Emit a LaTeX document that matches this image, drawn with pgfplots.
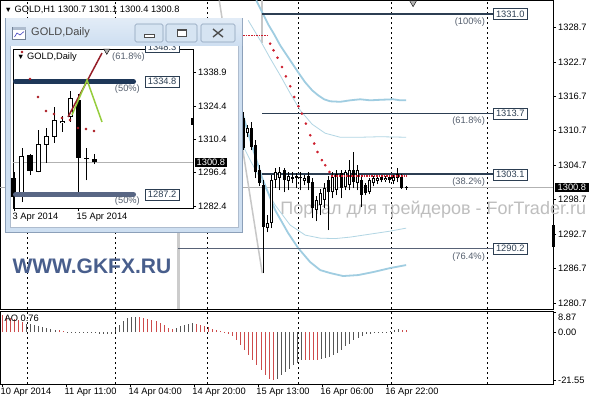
\documentclass[border=0pt]{standalone}
\usepackage{fontspec}
\setmainfont{Liberation Sans}
\usepackage{pgfplots}
\pgfplotsset{compat=1.18}
\usepackage{pgfplotstable}
\newcommand{\tfont}{\fontsize{9.3pt}{11pt}\selectfont}
\definecolor{fibline}{RGB}{44,62,82}
\definecolor{fibline2}{RGB}{88,98,118}
\definecolor{pcttext}{RGB}{85,95,110}
\definecolor{bandthick}{RGB}{160,205,225}
\definecolor{bandthin}{RGB}{178,214,228}
\definecolor{sarred}{RGB}{205,30,45}
\definecolor{aored}{RGB}{205,75,75}
\definecolor{aogray}{RGB}{85,85,85}
\definecolor{wmgray}{RGB}{190,190,190}
\definecolor{gkfx}{RGB}{72,94,140}
\definecolor{winborder}{RGB}{206,223,241}
\definecolor{winedge}{RGB}{140,160,185}
\definecolor{btnfill}{RGB}{214,228,242}
\definecolor{navybar}{RGB}{30,55,88}
\definecolor{slatebar}{RGB}{88,102,132}
\definecolor{insetred}{RGB}{150,30,40}
\definecolor{insetgreen}{RGB}{150,205,60}

\pgfplotstableread{
x o h l c
243 1312.87 1313.92 1307.31 1307.66
247 1310.27 1311.66 1309.57 1311.13
251 1311.13 1312.18 1307.31 1307.83
255 1308.18 1309.05 1302.44 1303.48
259 1303.83 1304.70 1301.05 1301.57
263 1301.22 1302.09 1285.92 1293.92
267 1293.74 1296.00 1293.05 1294.61
271 1294.61 1302.96 1293.74 1302.09
275 1302.09 1304.18 1300.70 1303.48
279 1302.44 1304.35 1300.35 1303.48
284 1303.83 1304.18 1300.00 1302.09
288 1301.92 1303.48 1300.35 1302.79
292 1302.27 1303.48 1301.57 1302.61
296 1302.79 1303.31 1300.70 1302.44
300 1302.44 1303.48 1300.35 1302.61
304 1301.92 1302.96 1301.22 1302.44
308 1302.79 1303.48 1300.35 1301.57
312 1301.74 1302.44 1295.48 1297.22
316 1296.87 1299.31 1294.96 1298.61
320 1297.74 1300.53 1296.00 1299.83
324 1298.61 1301.57 1297.22 1300.70
328 1302.09 1302.79 1293.40 1300.00
332 1300.00 1303.48 1298.96 1302.61
336 1300.35 1303.83 1299.48 1303.13
341 1303.31 1303.83 1298.96 1300.70
345 1300.87 1303.83 1300.35 1303.48
349 1301.22 1305.57 1300.35 1303.83
353 1303.83 1306.96 1300.70 1301.74
357 1301.57 1304.70 1300.35 1303.83
361 1302.09 1302.79 1297.40 1299.48
365 1301.22 1301.57 1299.48 1299.83
369 1300.00 1302.44 1299.66 1302.09
373 1301.57 1302.79 1301.05 1302.44
377 1301.92 1302.96 1301.40 1302.44
381 1302.61 1302.96 1301.74 1302.09
385 1302.09 1302.79 1301.74 1302.44
389 1302.61 1302.96 1301.57 1302.09
393 1301.92 1302.96 1301.40 1302.61
397 1302.44 1304.18 1301.74 1303.13
401 1302.61 1303.13 1300.53 1300.70
406 1300.70 1301.10 1300.40 1300.80
}\maincandles

\pgfplotstableread{
x o h l c
0 1294.18 1296.71 1281.60 1286.16
1 1286.16 1306.84 1284.05 1303.46
2 1303.88 1304.30 1295.44 1297.13
3 1296.71 1314.43 1296.50 1308.52
4 1308.10 1315.27 1300.51 1311.90
5 1311.48 1324.13 1308.95 1318.65
6 1317.38 1320.34 1313.59 1318.23
7 1319.92 1330.88 1317.81 1327.93
8 1327.09 1329.50 1286.16 1302.62
9 1302.62 1306.84 1293.33 1302.40
10 1302.20 1304.30 1300.08 1300.80
}\dailycandles

\tikzset{
  pbox/.style={draw=fibline, line width=0.7pt, fill=white, text=fibline, font=\tfont, inner xsep=2.6pt, inner ysep=1.8pt, minimum height=11pt, anchor=west},
  pct/.style={anchor=east, inner sep=0pt, text=pcttext, font=\tfont},
}
\pgfplotsset{
  nomark/.style={only marks, mark=*, mark size=0pt, mark options={draw=none, fill=none}, forget plot},
}

\begin{document}
\begin{tikzpicture}
\useasboundingbox (0,0) rectangle (596pt,400pt);
\fill[white] (0,0) rectangle (596pt,400pt);

% ---------------- main H1 panel ----------------
\begin{axis}[
  at={(0.4pt,399.6pt)}, anchor=north west, scale only axis,
  width=552.6pt, height=308.6pt,
  xmin=0, xmax=553, ymin=1279.66, ymax=1333.4,
  clip=false,
  axis line style={black, line width=0.8pt},
  xtick=\empty,
  ytick={1280.7,1286.7,1292.7,1298.7,1304.7,1310.7,1316.7,1322.7,1328.7},
  yticklabels={1280.7,1286.7,1292.7,1298.7,1304.7,1310.7,1316.7,1322.7,1328.7},
  ytick pos=right, yticklabel pos=right,
  tick align=outside, major tick length=3pt,
  tick style={black, line width=0.6pt},
  yticklabel style={anchor=west, inner sep=0pt, xshift=2pt, font=\tfont},
]
\pgfplotsinvokeforeach{27,115,207,298,391,487}{
  \addplot[black, line width=0.6pt, dash pattern=on 2.5pt off 2.5pt, forget plot] coordinates {(#1,1279.66) (#1,1333.4)};
}
% current price line
\addplot[black!30, line width=0.6pt] coordinates {(0,1300.8) (553,1300.8)};
% watermark
\node[anchor=west, inner sep=0pt, text=wmgray, font=\fontsize{18pt}{20pt}\selectfont] at (axis cs:280,1296.87) {Портал для трейдеров - ForTrader.ru};
% gray helper lines
\addplot[black!22, line width=1.5pt] coordinates {(219,1333.4) (262,1285.92)};
\addplot[black!22, line width=2pt] coordinates {(262,1333.4) (262,1326)};
\addplot[black!20, line width=2.5pt] coordinates {(178,1316) (178,1279.66)};
% bands
\addplot[bandthick, line width=1.8pt] coordinates {(256,1333.40) (262,1331.31) (268,1329.22) (274,1327.48) (280,1325.57) (290,1322.96) (298,1320.87) (305,1319.13) (312,1317.74) (318,1316.87) (324,1316.18) (330,1315.83) (340,1315.74) (350,1316.00) (360,1316.18) (370,1316.00) (380,1316.09) (393,1316.18) (400,1316.00) (406,1316.00)};
\addplot[bandthin, line width=0.8pt] coordinates {(248,1329.92) (260,1326.44) (270,1323.31) (280,1320.35) (290,1317.22) (300,1314.27) (312,1311.83) (325,1310.27) (340,1309.57) (360,1309.57) (380,1309.66) (406,1309.57)};
\addplot[bandthin, line width=0.8pt] coordinates {(240,1309.05) (250,1305.57) (262,1301.74) (275,1297.74) (290,1294.27) (305,1292.53) (320,1292.00) (335,1291.92) (350,1292.18) (370,1292.70) (390,1293.22) (406,1293.74)};
\addplot[bandthick, line width=1.8pt] coordinates {(240,1315.13) (250,1309.05) (262,1302.44) (275,1296.87) (288,1292.87) (298,1290.27) (310,1287.83) (320,1286.44) (330,1285.92) (343,1285.40) (358,1285.57) (373,1286.09) (390,1286.79) (406,1287.31)};
% fibonacci levels
\addplot[fibline, line width=1.8pt] coordinates {(262,1331.0) (493,1331.0)};
\addplot[fibline, line width=1.8pt] coordinates {(262,1313.7) (493,1313.7)};
\addplot[fibline, line width=1.8pt] coordinates {(262,1303.1) (493,1303.1)};
\addplot[fibline2, line width=1.8pt] coordinates {(178,1290.2) (493,1290.2)};
% candles: wicks, bodies, white interiors
\addplot[nomark, error bars/.cd, y dir=plus, y explicit, error mark=none, error bar style={black, line width=0.8pt}]
  table[x=x, y=l, y error expr=\thisrow{h}-\thisrow{l}] {\maincandles};
\addplot[nomark, error bars/.cd, y dir=plus, y explicit, error mark=none, error bar style={black, line width=3pt}]
  table[x=x, y expr={min(\thisrow{o},\thisrow{c})}, y error expr={max(abs(\thisrow{c}-\thisrow{o}),0.17)}] {\maincandles};
\addplot[nomark, error bars/.cd, y dir=plus, y explicit, error mark=none, error bar style={white, line width=1.1pt}]
  table[x=x, y expr={\thisrow{o}+0.17}, y error expr={max(\thisrow{c}-\thisrow{o}-0.34,0)}] {\maincandles};
% parabolic SAR
\addplot[sarred, line width=1.6pt, dash pattern=on 1.5pt off 1.1pt] coordinates {(243,1327.31) (267,1327.31)};
\addplot[only marks, mark=*, mark size=1.1pt, sarred, mark options={draw=none}] coordinates {(270,1325.87) (273.3,1324.70) (277.3,1323.43) (281.7,1321.80) (285.7,1320.18) (290,1318.44) (294,1316.58) (298.3,1314.96) (301.7,1313.69) (305.7,1311.95) (310,1309.92) (314,1308.47) (317.3,1307.01) (321.7,1305.57) (325,1304.70) (329.3,1303.53)};
\addplot[sarred, line width=1.4pt, dash pattern=on 1.4pt off 1.1pt] coordinates {(331,1302.85) (407,1302.85)};
% fib labels
\node[pct, yshift=-7.5pt] at (axis cs:485,1331.0) {(100\%)};
\node[pct, yshift=-7.5pt] at (axis cs:485,1313.7) {(61.8\%)};
\node[pct, yshift=-7.5pt] at (axis cs:485,1303.1) {(38.2\%)};
\node[pct, yshift=-8.5pt] at (axis cs:485,1290.2) {(76.4\%)};
\node[pbox] at (axis cs:493,1331.0) {1331.0};
\node[pbox] at (axis cs:493,1313.7) {1313.7};
\node[pbox] at (axis cs:493,1303.1) {1303.1};
\node[pbox] at (axis cs:493,1290.2) {1290.2};
% markers on the price scale
\addplot[black, line width=3pt] coordinates {(553.5,1294.27) (553.5,1290.44)};
\addplot[only marks, mark=triangle*, mark size=4pt, mark options={rotate=180, fill=black!30, draw=none}] coordinates {(413,1333.0)};
\node[anchor=west, fill=black, text=white, font=\tfont, inner xsep=2.5pt, inner ysep=1.5pt] at (axis cs:555,1300.8) {1300.8};
% texts
\node[anchor=west, inner sep=0pt, font=\tfont] at (axis cs:4,1331.83) {\scalebox{0.8}{▼} GOLD,H1 1300.7 1301.1 1300.4 1300.8};
\node[anchor=west, inner sep=0pt, text=gkfx, font=\bfseries\fontsize{21pt}{24pt}\selectfont] at (axis cs:12,1287.13) {WWW.GKFX.RU};
\end{axis}

% ---------------- AO panel ----------------
\begin{axis}[
  at={(0.4pt,89pt)}, anchor=north west, scale only axis,
  width=552.6pt, height=73pt,
  xmin=0, xmax=553, ymin=-23.11, ymax=9.33, clip=false,
  axis line style={black, line width=0.8pt},
  xtick={2,66,130,194,258,322,387},
  xticklabels={10 Apr 2014,11 Apr 11:00,14 Apr 04:00,14 Apr 20:00,15 Apr 13:00,16 Apr 06:00,16 Apr 22:00},
  xtick pos=bottom,
  xticklabel style={anchor=north west, inner sep=0pt, xshift=-2pt, yshift=-1pt, font=\tfont},
  ytick={-21.55,0,8.87}, yticklabels={-21.55,0.00,{}},
  ytick pos=right, yticklabel pos=right,
  yticklabel style={anchor=west, inner sep=0pt, xshift=2pt, font=\tfont},
  tick align=outside, major tick length=3pt,
  tick style={black, line width=0.6pt},
]
\pgfplotsinvokeforeach{27,115,207,298,391,487}{
  \addplot[black, line width=0.6pt, dash pattern=on 2.5pt off 2.5pt, forget plot] coordinates {(#1,-23.11) (#1,9.33)};
}
\addplot[ycomb, aored, line width=0.9pt] coordinates {(2,7.4)(6,7.0)(10,6.4)(14,5.9)(18,5.2)(22,4.4)(59,0.7)(63,0.3)(139,6.7)(143,6.4)(147,5.9)(151,5.5)(156,4.9)(160,4.0)(164,3.0)(168,1.9)(172,1.2)(196,3.5)(200,3.1)(204,2.8)(208,2.2)(212,1.5)(216,0.9)(220,0.3)(224,-0.4)(228,-1.0)(232,-1.9)(236,-3.7)(240,-5.6)(244,-7.9)(248,-10.4)(252,-12.6)(256,-14.8)(261,-17.0)(265,-19.3)(269,-20.7)(273,-21.55)(305,-12.3)(309,-12.3)(313,-12.4)(317,-12.4)(402,1.0)(406,0.76)};
\addplot[ycomb, aogray, line width=0.9pt] coordinates {(26,3.7)(30,3.4)(34,3.0)(38,2.7)(42,2.2)(46,1.9)(50,1.5)(55,1.1)(67,-0.15)(71,-0.2)(75,-0.25)(79,-0.3)(83,-0.3)(87,-0.4)(91,-0.5)(95,-0.6)(99,-0.8)(103,-1.0)(107,-1.1)(111,-0.9)(115,1.5)(119,3.0)(123,4.9)(127,6.4)(131,6.7)(135,6.8)(176,1.9)(180,2.5)(184,3.3)(188,3.7)(192,3.8)(277,-20.7)(281,-19.3)(285,-17.8)(289,-16.3)(293,-14.8)(297,-13.8)(301,-12.6)(321,-11.9)(325,-11.6)(329,-11.1)(333,-10.4)(337,-9.3)(341,-7.9)(345,-6.4)(349,-5.2)(353,-3.7)(358,-2.5)(362,-1.6)(366,-1.0)(370,-0.7)(374,-0.4)(378,-0.3)(382,-0.15)(386,0.1)(390,0.4)(394,1.0)(398,1.2)};
\node[anchor=west, inner sep=0pt, font=\tfont] at (axis cs:4,6.2) {AO 0.76};
\node[anchor=west, inner sep=0pt, font=\tfont, xshift=5pt, yshift=-5pt] at (axis cs:553,8.87) {8.87};
\end{axis}

% ---------------- inset window ----------------
\begin{scope}[x=1pt, y=-1pt, yshift=400pt]
  \fill[winedge] (5,18) rectangle (243,233);
  \fill[winborder] (6,19) rectangle (242,232);
  \fill[white] (10,45) rectangle (238,227);
  \draw[winedge!70, line width=0.6pt] (10,45) rectangle (238,227);
\end{scope}

\begin{axis}[
  at={(13pt,351pt)}, anchor=north west, scale only axis,
  width=180pt, height=159pt,
  xmin=-0.125, xmax=22.375, ymin=1281.52, ymax=1348.6, clip=false,
  axis line style={black, line width=0.8pt},
  xtick={0,8}, xticklabels={3 Apr 2014,15 Apr 2014}, xtick pos=bottom,
  xticklabel style={anchor=north west, inner sep=0pt, xshift=-1.5pt, yshift=-2pt, font=\tfont},
  ytick={1282.4,1296.4,1310.4,1324.4,1338.9},
  yticklabels={1282.4,1296.4,1310.4,1324.4,1338.9},
  ytick pos=right, yticklabel pos=right,
  yticklabel style={anchor=west, inner sep=0pt, xshift=2pt, font=\tfont},
  tick align=outside, major tick length=3pt,
  tick style={black, line width=0.6pt},
]
\addplot[black!30, line width=0.6pt] coordinates {(-0.125,1300.8) (22.375,1300.8)};
\addplot[nomark, error bars/.cd, y dir=plus, y explicit, error mark=none, error bar style={black, line width=0.8pt}]
  table[x=x, y=l, y error expr=\thisrow{h}-\thisrow{l}] {\dailycandles};
\addplot[nomark, error bars/.cd, y dir=plus, y explicit, error mark=none, error bar style={black, line width=5pt}]
  table[x=x, y expr={min(\thisrow{o},\thisrow{c})}, y error expr={max(abs(\thisrow{c}-\thisrow{o}),0.42)}] {\dailycandles};
\addplot[nomark, error bars/.cd, y dir=plus, y explicit, error mark=none, error bar style={white, line width=3pt}]
  table[x=x, y expr={\thisrow{o}+0.42}, y error expr={max(\thisrow{c}-\thisrow{o}-0.84,0)}] {\dailycandles};
% thick level bars
\addplot[navybar, line width=5pt, line cap=round] coordinates {(0.19,1334.8) (14.94,1334.8)};
\addplot[slatebar, line width=5pt, line cap=round] coordinates {(0.19,1287.2) (14.94,1287.2)};
% trend lines
\addplot[insetred, line width=1.5pt] coordinates {(6.75,1319.92) (11,1346.9)};
\addplot[insetgreen, line width=1.5pt] coordinates {(7.25,1320.76) (9.125,1335.52) (11,1317.81)};
% SAR
\addplot[only marks, mark=*, mark size=1.1pt, insetred!80!red, mark options={draw=none}] coordinates {(1,1347.34) (2,1335.95) (3,1328.35) (4,1322.45) (5,1321.18) (6,1319.49) (7,1318.65) (8,1315.27) (9,1314.85) (10,1314.01)};
\addplot[only marks, mark=triangle*, mark size=3.5pt, mark options={rotate=180, fill=black!30, draw=none}] coordinates {(11.6,1347.8)};
% labels
\node[pbox] at (axis cs:16.375,1349.45) {1348.3};
\node[pct] at (axis cs:16.375,1345.23) {(61.8\%)};
\node[pbox] at (axis cs:16.375,1334.8) {1334.8};
\node[pct, yshift=-7.5pt] at (axis cs:15.75,1334.8) {(50\%)};
\node[pbox] at (axis cs:16.375,1287.2) {1287.2};
\node[pct, yshift=-7pt] at (axis cs:15.75,1287.2) {(50\%)};
\addplot[black, line width=3pt] coordinates {(22.25,1319.5) (22.25,1316.5)};
\node[anchor=west, fill=black, text=white, font=\tfont, inner xsep=2pt, inner ysep=1.5pt, xshift=1.5pt] at (axis cs:22.375,1300.8) {1300.8};
\node[anchor=west, inner sep=0pt, font=\tfont] at (axis cs:0.375,1345.23) {\scalebox{0.8}{▼} GOLD,Daily};
\end{axis}

% title bar on top
\begin{scope}[x=1pt, y=-1pt, yshift=400pt]
  \shade[top color=winborder!60!white, bottom color=winborder] (6,19) rectangle (242,45);
  \draw[winedge!80!black, line width=0.6pt, fill=white] (12.5,27.5) rectangle (25.5,39.5);
  \fill[winedge!70] (12.5,27.5) rectangle (25.5,30);
  \draw[blue!50!gray, line width=0.6pt] (14.5,37) -- (17,33) -- (20,35) -- (24,31.5);
  \node[anchor=west, inner sep=0pt, text=black!72, font=\fontsize{11pt}{13pt}\selectfont] at (31,32.5) {GOLD,Daily};
  \foreach \a/\b in {135/163, 166/197, 201/235} {
    \draw[draw=winedge, fill=btnfill, rounded corners=1.5pt, line width=0.6pt] (\a,24) rectangle (\b,42);
  }
  \draw[black!70, line width=0.7pt, fill=white] (144,34) rectangle (154,37.5);
  \draw[black!70, line width=0.7pt, fill=white] (177,29.5) rectangle (186,36.5);
  \draw[black!70, line width=1.6pt] (177,30) -- (186,30);
  \draw[black!70, line width=1.4pt] (213,29) -- (223,37) (213,37) -- (223,29);
\end{scope}
\end{tikzpicture}
\end{document}
